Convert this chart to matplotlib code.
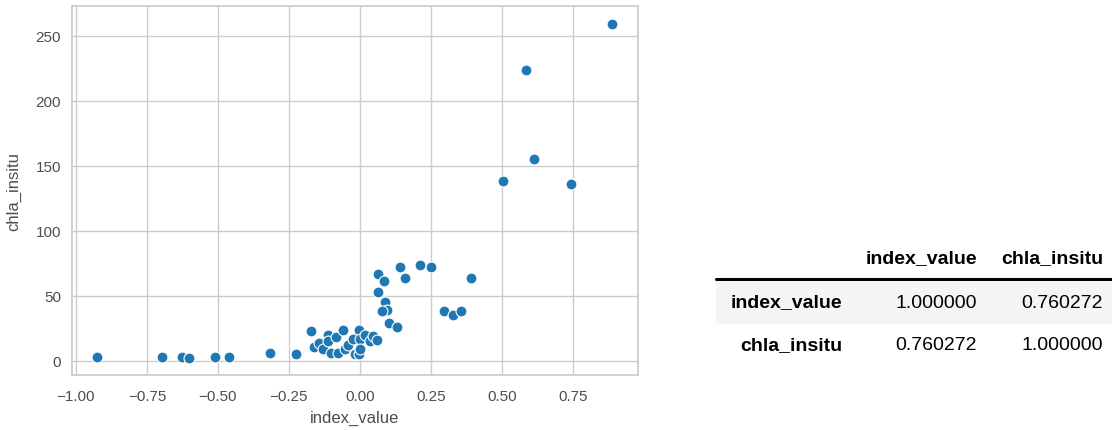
import matplotlib
matplotlib.use("Agg")
import matplotlib.pyplot as plt
import seaborn as sns
import pandas as pd

index_value = [-0.926, -0.697, -0.627, -0.602, -0.511, -0.461, -0.317, -0.226,
               -0.174, -0.161, -0.143, -0.129, -0.114, -0.112, -0.103, -0.085,
               -0.076, -0.059, -0.053, -0.041, -0.026, -0.018, -0.002, 0.000,
               -0.002, 0.000, 0.018, 0.035, 0.045, 0.061, 0.062, 0.083, 0.063,
               0.088, 0.094, 0.076, 0.101, 0.129, 0.142, 0.160, 0.212, 0.250,
               0.296, 0.326, 0.356, 0.391, 0.886, 0.583, 0.613, 0.505, 0.743]
chla_insitu = [3, 3, 3, 2, 3, 3, 6, 5,
               22.8, 11, 14, 9, 20, 15.6, 6, 18.7,
               6, 24, 9, 12, 17, 5, 24, 17,
               5, 9, 20, 15, 19, 16.4, 67, 61.5, 52.8,
               45, 39.5, 38.5, 29, 26, 72, 64, 74, 72,
               38.5, 35, 38.5, 64, 259, 224, 155, 138.7, 136]

table_columns = ["index_value", "chla_insitu"]
table_rows = ["index_value", "chla_insitu"]
table_values = [[1.000000, 0.760272], [0.760272, 1.000000]]

sns.set_theme(style="whitegrid")
plt.rcParams['font.family'] = ['Liberation Sans', 'DejaVu Sans']

W, H = 1112, 431
fig = plt.figure(figsize=(W / 100, H / 100), dpi=100)

def fx(px):
    return px / W

def fy(py):
    return 1 - py / H

ax = fig.add_axes([fx(72), fy(376), fx(638) - fx(72), fy(7) - fy(376)])
df = pd.DataFrame({"index_value": index_value, "chla_insitu": chla_insitu})
sns.scatterplot(data=df, x="index_value", y="chla_insitu", ax=ax, s=62,
                color="#1f77b4", edgecolor="white", linewidth=0.8)
ax.set_xlim(-1.014, 0.979)
ax.set_ylim(-10.8, 273)
ax.set_xticks([-1.0, -0.75, -0.5, -0.25, 0.0, 0.25, 0.5, 0.75])
ax.set_yticks([0, 50, 100, 150, 200, 250])
ax.tick_params(labelsize=11, colors=".3", length=0)
ax.tick_params(axis="x", pad=10)
ax.tick_params(axis="y", pad=8)
ax.set_xlabel("index_value", fontsize=12, color=".3", labelpad=5)
ax.set_ylabel("chla_insitu", fontsize=12, color=".3", labelpad=10)

# Table
fig.patches.append(matplotlib.patches.Rectangle((fx(716), fy(324)), fx(1112) - fx(716),
                   fy(283) - fy(324), transform=fig.transFigure, color="#f5f5f5", zorder=0))
fig.add_artist(matplotlib.lines.Line2D([fx(716), fx(1112)], [fy(280), fy(280)],
                                       color="black", linewidth=2.2))
col_right = [977, 1103]
row_y = [303, 346]
fs = 14
for j, c in enumerate(table_columns):
    fig.text(fx(col_right[j]), fy(259), c, ha="right", va="center",
             fontsize=fs, fontweight="bold", color="black")
for i, r in enumerate(table_rows):
    fig.text(fx(842), fy(row_y[i]), r, ha="right", va="center",
             fontsize=fs, fontweight="bold", color="black")
    for j in range(len(table_columns)):
        fig.text(fx(col_right[j]), fy(row_y[i]), f"{table_values[i][j]:.6f}",
                 ha="right", va="center", fontsize=fs, color="black")

fig.savefig("out.png", dpi=100)
